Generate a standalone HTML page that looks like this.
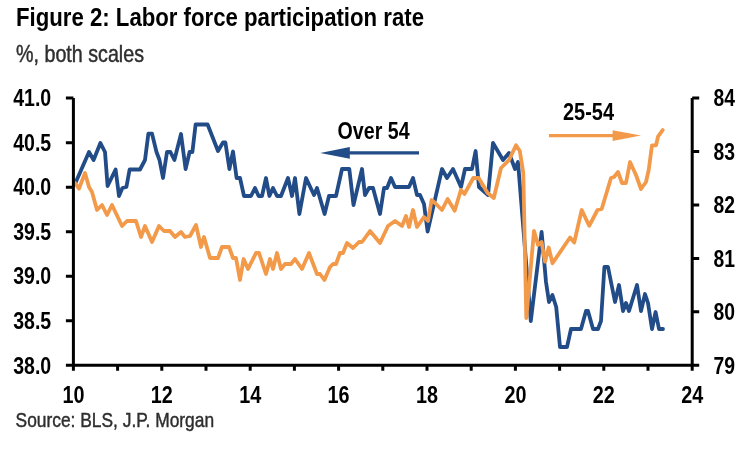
<!DOCTYPE html>
<html><head><meta charset="utf-8"><style>
html,body{margin:0;padding:0;background:#fff;width:750px;height:450px;overflow:hidden}
svg{position:absolute;left:0;top:0;display:block;will-change:transform}
text{font-family:"Liberation Sans",sans-serif}
</style></head><body>
<svg width="750" height="450" viewBox="0 0 750 450">
<polyline points="75,184 89,152 93.6,160 100.4,143 105,152 107.6,186 115.6,169.5 119,196 122.4,188 126.4,187 129.6,169.5 140,169.5 145,160 148.4,133.6 152,133.6 156.5,152 159.5,160 163,178 167,152 170.4,152 174.4,160 181,134 185.6,169 189.6,152 192.4,152 195.6,124.5 207.6,124.5 218,151 223,142.5 225.4,142.5 229.4,169 233,151.5 236.6,178 240,178 244,196 251,196 255,188 258.6,196 262,196 266,178 269.4,196 273,188 277,196 281,196 288,178 292,196 295,178 299.4,214 306,178 314,195 317,188 324.6,214 329,196 336,196 342,169 349.3,169 353.5,205 362,169 365,195 369,188 373,188 380,214 384,188 387,188 391,178 395,187 409,187 413,178 417,195 420,195 424,204 427.6,231.6 442,169 447,178 453,169 461,187 465,169 472,169 475.6,151 479,187 488,195 493,143 503,160 509,153 515,169 518,162 530.8,321 541.6,232 546,282 549,302 552.4,295 556.2,307 560,347 567,347 571,329 581,329 586,311 588,311 593,329 598,329 601,321 604.4,267 608,267 615,302 619,285 623,311 626,303 629,311 637,285 641,311 645,294 648,303 652,329 655.6,312 659,329 663,329" fill="none" stroke="#224C87" stroke-width="3.8" stroke-linejoin="round" stroke-linecap="round"/>
<polyline points="75,183 79,188.6 85,173 89,187 92,192 97,210 102,205 107,215 112,205 122,226 127,221 136,221 141,237 145,226 152,242 159,226 164,231 170,231 175,237 181,232 185,237 190,236 196,225 201,247 204,237 210,258 218,258 222,247 229,247 233,258 236,258 240,280 243.6,259 248,269 256,253 259,253 266,274 270,259 273,269 277,253 281,269 285,264 291,264 295,259 302,269 309,253 317,274 320,274 324.4,280 330,267 333,264 336,264 340,253 343,253 347,243 353,248 359,242 362,242 370,231 380,243 388,226 395,221 402,226 406,216 409,227 413,210 417,227 424,217 428,221 431.6,200 435,203 442,210 447.6,199 454.7,210.7 460.9,190 464.4,194 473.3,178 478.7,178 487.6,193 493.8,198 501,168 509,160 516,145.3 519.8,151 523.3,173 526.3,318 534,231 538,245 541.6,242 545,261.7 548.7,247.5 552.5,263.3 570,237.5 574.2,242.5 581.7,210 589.2,225.8 597.5,210 601.7,209 611,178 614,177 618,172 622,183 626,183 630,162 636,175 641,189 646,182 648.7,170 652,145.3 656,145.3 658,136.7 662.7,130" fill="none" stroke="#F29A4A" stroke-width="3.8" stroke-linejoin="round" stroke-linecap="round"/>
<path d="M73.4,98.1V365.3M692.2,98.1V365.3M65.9,365.3H699.2M65.9,98.10H73.4M65.9,142.63H73.4M65.9,187.17H73.4M65.9,231.70H73.4M65.9,276.23H73.4M65.9,320.77H73.4M65.9,365.30H73.4M692.2,98.10H699.2M692.2,151.54H699.2M692.2,204.98H699.2M692.2,258.42H699.2M692.2,311.86H699.2M692.2,365.30H699.2M73.40,365.3V370.8M117.60,365.3V370.8M161.80,365.3V370.8M206.00,365.3V370.8M250.20,365.3V370.8M294.40,365.3V370.8M338.60,365.3V370.8M382.80,365.3V370.8M427.00,365.3V370.8M471.20,365.3V370.8M515.40,365.3V370.8M559.60,365.3V370.8M603.80,365.3V370.8M648.00,365.3V370.8M692.20,365.3V370.8" stroke="#000" stroke-width="3" fill="none"/>
<path d="M345,152.9H419" stroke="#224C87" stroke-width="3.3"/>
<path d="M320.2,152.9L349.8,146.9L349.8,158.7Z" fill="#224C87"/>
<path d="M549,135.6H618" stroke="#F29A4A" stroke-width="3.4"/>
<path d="M641,135.6L612.6,130.2L612.6,141Z" fill="#F29A4A"/>
<text x="51.2" y="106.3" font-size="23.5" font-weight="bold" fill="#000" text-anchor="end" textLength="38" lengthAdjust="spacingAndGlyphs">41.0</text>
<text x="51.2" y="150.83333333333331" font-size="23.5" font-weight="bold" fill="#000" text-anchor="end" textLength="38" lengthAdjust="spacingAndGlyphs">40.5</text>
<text x="51.2" y="195.36666666666667" font-size="23.5" font-weight="bold" fill="#000" text-anchor="end" textLength="38" lengthAdjust="spacingAndGlyphs">40.0</text>
<text x="51.2" y="239.9" font-size="23.5" font-weight="bold" fill="#000" text-anchor="end" textLength="38" lengthAdjust="spacingAndGlyphs">39.5</text>
<text x="51.2" y="284.43333333333334" font-size="23.5" font-weight="bold" fill="#000" text-anchor="end" textLength="38" lengthAdjust="spacingAndGlyphs">39.0</text>
<text x="51.2" y="328.9666666666667" font-size="23.5" font-weight="bold" fill="#000" text-anchor="end" textLength="38" lengthAdjust="spacingAndGlyphs">38.5</text>
<text x="51.2" y="373.50000000000006" font-size="23.5" font-weight="bold" fill="#000" text-anchor="end" textLength="38" lengthAdjust="spacingAndGlyphs">38.0</text>
<text x="713.5" y="106.3" font-size="23.5" font-weight="bold" fill="#000" text-anchor="start" textLength="21.5" lengthAdjust="spacingAndGlyphs">84</text>
<text x="713.5" y="159.74" font-size="23.5" font-weight="bold" fill="#000" text-anchor="start" textLength="21.5" lengthAdjust="spacingAndGlyphs">83</text>
<text x="713.5" y="213.18" font-size="23.5" font-weight="bold" fill="#000" text-anchor="start" textLength="21.5" lengthAdjust="spacingAndGlyphs">82</text>
<text x="713.5" y="266.62" font-size="23.5" font-weight="bold" fill="#000" text-anchor="start" textLength="21.5" lengthAdjust="spacingAndGlyphs">81</text>
<text x="713.5" y="320.06" font-size="23.5" font-weight="bold" fill="#000" text-anchor="start" textLength="21.5" lengthAdjust="spacingAndGlyphs">80</text>
<text x="713.5" y="373.50000000000006" font-size="23.5" font-weight="bold" fill="#000" text-anchor="start" textLength="21.5" lengthAdjust="spacingAndGlyphs">79</text>
<text x="73.4" y="402.6" font-size="24" font-weight="bold" fill="#000" text-anchor="middle" textLength="22" lengthAdjust="spacingAndGlyphs">10</text>
<text x="161.8" y="402.6" font-size="24" font-weight="bold" fill="#000" text-anchor="middle" textLength="22" lengthAdjust="spacingAndGlyphs">12</text>
<text x="250.20000000000002" y="402.6" font-size="24" font-weight="bold" fill="#000" text-anchor="middle" textLength="22" lengthAdjust="spacingAndGlyphs">14</text>
<text x="338.6" y="402.6" font-size="24" font-weight="bold" fill="#000" text-anchor="middle" textLength="22" lengthAdjust="spacingAndGlyphs">16</text>
<text x="427.0" y="402.6" font-size="24" font-weight="bold" fill="#000" text-anchor="middle" textLength="22" lengthAdjust="spacingAndGlyphs">18</text>
<text x="515.4000000000001" y="402.6" font-size="24" font-weight="bold" fill="#000" text-anchor="middle" textLength="22" lengthAdjust="spacingAndGlyphs">20</text>
<text x="603.8" y="402.6" font-size="24" font-weight="bold" fill="#000" text-anchor="middle" textLength="22" lengthAdjust="spacingAndGlyphs">22</text>
<text x="692.2" y="402.6" font-size="24" font-weight="bold" fill="#000" text-anchor="middle" textLength="22" lengthAdjust="spacingAndGlyphs">24</text>
<text x="16" y="26" font-size="25.8" font-weight="bold" fill="#000" text-anchor="start" textLength="408" lengthAdjust="spacingAndGlyphs">Figure 2: Labor force participation rate</text>
<text x="16" y="62.4" font-size="23.2" font-weight="normal" fill="#2e2e2e" text-anchor="start" textLength="128" lengthAdjust="spacingAndGlyphs" stroke="#2e2e2e" stroke-width="0.45">%, both scales</text>
<text x="15.6" y="426.7" font-size="20.8" font-weight="normal" fill="#2e2e2e" text-anchor="start" textLength="198.5" lengthAdjust="spacingAndGlyphs" stroke="#2e2e2e" stroke-width="0.45">Source: BLS, J.P. Morgan</text>
<text x="337.6" y="139.4" font-size="24.5" font-weight="bold" fill="#000" text-anchor="start" textLength="72" lengthAdjust="spacingAndGlyphs">Over 54</text>
<text x="563" y="119.5" font-size="24.5" font-weight="bold" fill="#000" text-anchor="start" textLength="51" lengthAdjust="spacingAndGlyphs">25-54</text>
</svg>
</body></html>
